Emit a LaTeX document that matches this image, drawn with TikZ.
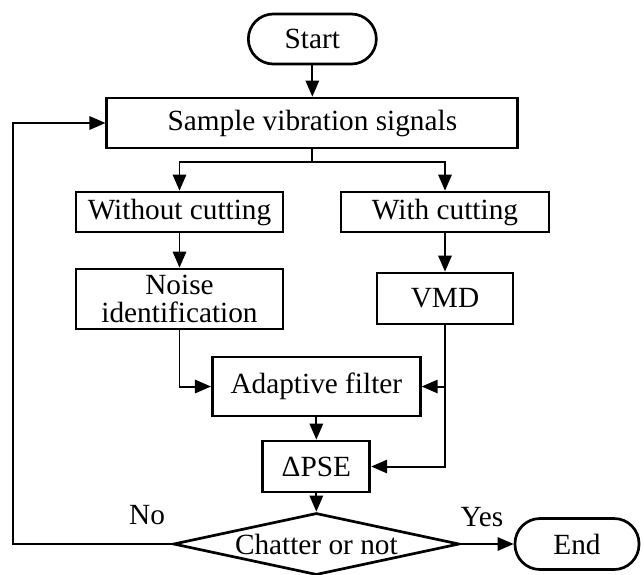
\documentclass[tikz,border=0pt]{standalone}
\usepackage{fontspec}
\setmainfont{Liberation Serif}
\usetikzlibrary{arrows.meta,shapes.geometric}

\tikzset{
    box/.style={draw, line width=2.3pt, rectangle, inner sep=0pt, align=center},
    term/.style={box, rounded corners=0.75cm},
    decide/.style={draw, line width=2.3pt, diamond, shape aspect=4.6, inner sep=0pt},
    pfeil/.style={line width=1.7pt, -{Triangle[length=0.48cm,width=0.4cm]}},
    linie/.style={line width=1.7pt},
}

\begin{document}
\begin{tikzpicture}[font=\fontsize{25}{23.5}\selectfont]
    \useasboundingbox (0,0) rectangle (19.32,-17.22);
    %Knoten
    \node[term, minimum width=3.84cm, minimum height=1.5cm] (start) at (9.37,-1.17) {Start};
    \node[box, minimum width=12.33cm, minimum height=1.5cm] (sample) at (9.37,-3.69) {Sample vibration signals};
    \node[box, minimum width=6.21cm, minimum height=1.2cm] (without) at (5.385,-6.36) {Without cutting};
    \node[box, minimum width=6.24cm, minimum height=1.2cm] (with) at (13.35,-6.36) {With cutting};
    \node[box, minimum width=6.21cm, minimum height=1.8cm] (noise) at (5.385,-8.97) {Noise\\identification};
    \node[box, minimum width=4.08cm, minimum height=1.53cm] (vmd) at (13.35,-8.955) {VMD};
    \node[box, minimum width=6.24cm, minimum height=1.77cm] (adapt) at (9.49,-11.595) {Adaptive filter};
    \node[box, minimum width=3.21cm, minimum height=1.53cm] (pse) at (9.49,-13.995) {ΔPSE};
    \node[decide, minimum width=8.58cm, minimum height=1.86cm] (chatter) at (9.49,-16.32) {Chatter or not};
    \node[term, minimum width=3.72cm, minimum height=1.53cm] (end) at (17.31,-16.32) {End};
    \node (lno) at (4.41,-15.45) {No};
    \node (lyes) at (14.46,-15.51) {Yes};
    \coordinate (split) at (9.37,-4.86);
    \coordinate (back) at (0.39,-16.32);

    %Pfeile
    \draw[pfeil] (start) -- (sample);
    \draw[linie] (sample.south) -- (split);
    \draw[pfeil] (split) -| (without.north);
    \draw[pfeil] (split) -| (with.north);
    \draw[pfeil] (without) -- (noise);
    \draw[pfeil] (with) -- (vmd);
    \draw[pfeil] (noise.south) |- (adapt.west);
    \draw[pfeil] (vmd.south) |- (adapt.east);
    \draw[pfeil] (vmd.south) |- (pse.east);
    \draw[pfeil] (adapt) -- (pse);
    \draw[pfeil] (pse) -- (chatter);
    \draw[pfeil] (chatter.east) -- (end.west);
    \draw[pfeil] (chatter.west) -- (back) |- (sample.west); %Rueckfuehrung
\end{tikzpicture}
\end{document}
